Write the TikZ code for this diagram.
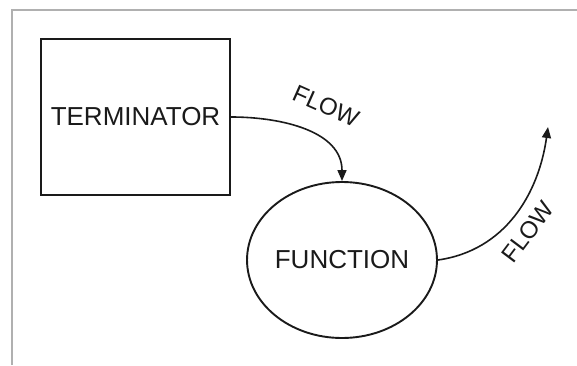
\documentclass[tikz,border=0pt]{standalone}
\usepackage{fontspec}
\setmainfont{Liberation Sans}
\usepackage{tikz}
\usetikzlibrary{positioning,arrows.meta,shapes.geometric}
\definecolor{marco}{HTML}{B0B0B0}
\definecolor{tinta}{HTML}{1A1A1A}

\begin{document}
\begin{tikzpicture}[x=1pt,y=1pt,
      caja/.style={draw=tinta,line width=2.4pt,minimum width=189pt,minimum height=156pt,
                   inner sep=0pt,font=\fontsize{26}{30}\selectfont,text=tinta},
      elipse/.style={ellipse,draw=tinta,line width=1.9pt,minimum width=180pt,minimum height=156pt,
                   inner sep=0pt,font=\fontsize{26}{30}\selectfont,text=tinta},
      flecha/.style={-{Triangle[length=11pt,width=9pt]},line width=1.6pt,tinta},
      etiqueta/.style={font=\fontsize{24}{27}\selectfont,text=tinta,inner sep=0pt}]
    \useasboundingbox (0,0) rectangle (577,365);
    % marco de la hoja
    \draw[marco,line width=2pt] (12,0) -- (12,354.5) -- (577,354.5);
    \node[caja] (t) at (135.5,248) {TERMINATOR};
    \node[elipse] (f) at (342,105) {FUNCTION};
    \coordinate (salida) at (548,238);
    \draw[flecha] (t.east) to[out=0,in=90] (f.north);
    \draw[flecha] (f.east) to[out=8,in=-98] (salida);
    \node[etiqueta,rotate=-24] (l1) at (326,259) {FLOW};
    \node[etiqueta,rotate=53] (l2) at (528,133) {FLOW};
  \end{tikzpicture}
\end{document}
